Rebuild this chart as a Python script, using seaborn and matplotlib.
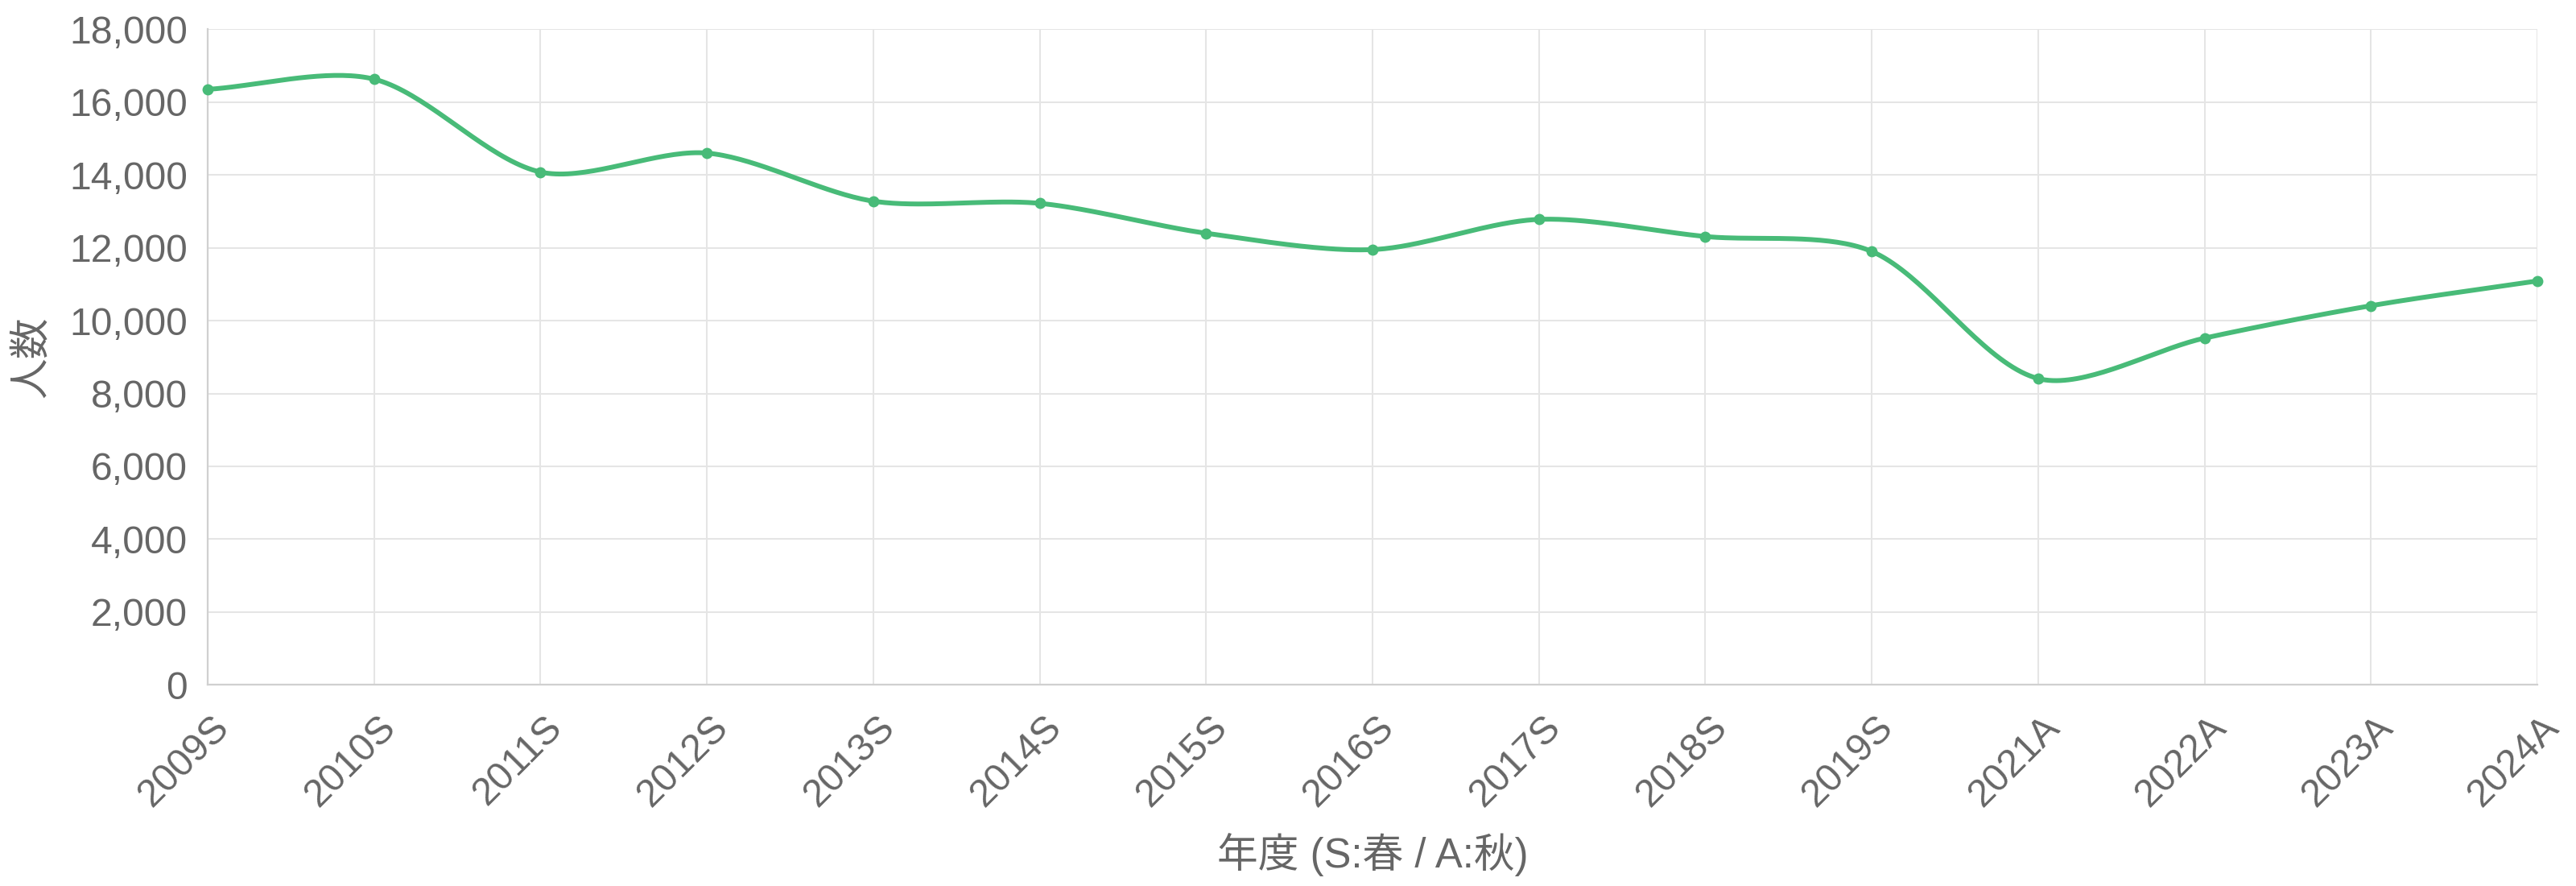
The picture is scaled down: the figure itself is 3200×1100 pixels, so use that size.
import numpy as np
import pandas as pd
import matplotlib
matplotlib.use("Agg")
import matplotlib.pyplot as plt
import matplotlib.transforms as mtransforms
import seaborn as sns

# ---- data ----
periods = ["2009S", "2010S", "2011S", "2012S", "2013S", "2014S", "2015S", "2016S",
           "2017S", "2018S", "2019S", "2021A", "2022A", "2023A", "2024A"]
counts = [16350, 16630, 14080, 14600, 13280, 13220, 12400, 11950,
          12780, 12310, 11900, 8410, 9520, 10410, 11090]
y_ticks = [0, 2000, 4000, 6000, 8000, 10000, 12000, 14000, 16000, 18000]
x_title = "年度 (S:春 / A:秋)"
y_title = "人数"

LINE_COLOR = "#48bb78"
GRID_COLOR = "#e5e5e5"
AXIS_COLOR = "#d0d0d0"
TEXT_COLOR = "#666666"
FONT = ["Liberation Sans", "Noto Sans CJK JP", "DejaVu Sans"]

sns.set_theme(style="white")
plt.rcParams["font.family"] = FONT

df = pd.DataFrame({"period": periods, "count": counts})
df["pos"] = np.arange(len(df))

fig = plt.figure(figsize=(32, 11), dpi=100)
ax = fig.add_axes([0.0806, 0.227, 0.985 - 0.0806, 0.967 - 0.227])
ax.set_xlim(0, len(df) - 1)
ax.set_ylim(0, 18000)


def chartjs_curve(xv, yv, tension=0.3, steps=40):
    """Chart.js-style bezier smoothing computed in display space."""
    pts = ax.transData.transform(np.column_stack([xv, yv]))
    n = len(pts)
    cp_prev = np.zeros_like(pts)
    cp_next = np.zeros_like(pts)
    for i in range(n):
        prev = pts[max(i - 1, 0)]
        cur = pts[i]
        nxt = pts[min(i + 1, n - 1)]
        d01 = np.hypot(*(cur - prev))
        d12 = np.hypot(*(nxt - cur))
        tot = d01 + d12
        s01 = d01 / tot if tot else 0
        s12 = d12 / tot if tot else 0
        cp_prev[i] = cur - tension * s01 * (nxt - prev)
        cp_next[i] = cur + tension * s12 * (nxt - prev)
    out = [pts[0]]
    t = np.linspace(0, 1, steps)[1:, None]
    for i in range(n - 1):
        p0, p1, p2, p3 = pts[i], cp_next[i], cp_prev[i + 1], pts[i + 1]
        seg = ((1 - t) ** 3) * p0 + 3 * ((1 - t) ** 2) * t * p1 + 3 * (1 - t) * t ** 2 * p2 + t ** 3 * p3
        out.extend(seg)
    out = np.array(out)
    return ax.transData.inverted().transform(out)


curve = chartjs_curve(df["pos"].values, df["count"].values)
sns.lineplot(x=curve[:, 0], y=curve[:, 1], sort=False, estimator=None, ax=ax,
             color=LINE_COLOR, linewidth=4.3, solid_capstyle="round",
             solid_joinstyle="round", zorder=3)
sns.scatterplot(data=df, x="pos", y="count", ax=ax, color=LINE_COLOR, s=100,
                edgecolor=LINE_COLOR, linewidth=0, zorder=4, clip_on=False)

# grid & ticks
ax.set_xticks(df["pos"])
ax.set_xticklabels(df["period"])
ax.set_yticks(y_ticks)
ax.set_yticklabels([f"{v:,}" for v in y_ticks])
ax.grid(True, color=GRID_COLOR, linewidth=1.45, zorder=0)
ax.set_axisbelow(True)
for side in ["top", "right"]:
    ax.spines[side].set_visible(False)
for side in ["left", "bottom"]:
    ax.spines[side].set_color(AXIS_COLOR)
    ax.spines[side].set_linewidth(1.6)
ax.tick_params(axis="both", length=11.5, width=1.45, color=GRID_COLOR,
               labelcolor=TEXT_COLOR, labelsize=34.6)
ax.tick_params(axis="y", pad=6.5)
ax.tick_params(axis="x", pad=21.5)

for lab in ax.get_xticklabels():
    lab.set_rotation(45)
    lab.set_ha("right")
    lab.set_va("center")
    lab.set_rotation_mode("anchor")
    lab.set_fontfamily(FONT)
    lab.set_transform(lab.get_transform() + mtransforms.ScaledTranslation(0.20, 0.0, fig.dpi_scale_trans))
for lab in ax.get_yticklabels():
    lab.set_fontfamily(FONT)

ax.set_xlabel(x_title, fontsize=36.5, color=TEXT_COLOR, family=FONT)
ax.set_ylabel(y_title, fontsize=36.5, color=TEXT_COLOR, family=FONT)
ax.xaxis.set_label_coords(0.5, -0.226)
ax.yaxis.set_label_coords(-0.067, 0.5)

fig.savefig("out.png", dpi=100, facecolor="white")
